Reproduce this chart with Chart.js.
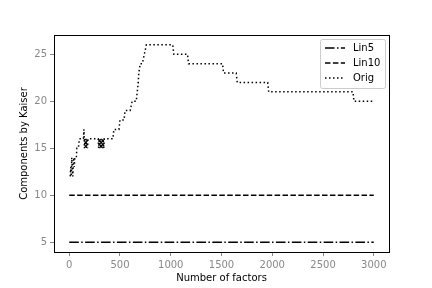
<!DOCTYPE html>
<html>
<head>
<meta charset="utf-8">
<script src="https://cdn.jsdelivr.net/npm/chart.js@4/dist/chart.umd.min.js"></script>
<style>
  html, body { margin: 0; padding: 0; background: #fff; }
  #wrap { width: 432px; height: 288px; }
</style>
</head>
<body>
<div id="wrap"><canvas id="kaiser-chart" width="432" height="288"></canvas></div>
<script>
// Orig series: number of factors vs components by Kaiser
const origFactors = [10, 15, 20, 25, 30, 35, 40, 45, 50, 55, 60, 70, 75, 85, 90, 100, 110, 140, 145, 150,
  155, 160, 165, 170, 175, 180, 185, 285, 290, 295, 300, 305, 310, 315, 320, 325, 330, 335, 340, 345,
  350, 430, 440, 490, 500, 540, 550, 600, 620, 660, 670, 680, 685, 700, 720, 740, 760, 1020, 1030,
  1165, 1175, 1510, 1520, 1645, 1655, 1955, 1965, 2795, 2805, 3000];
const origKaiser = [12, 13, 12, 14, 13, 12, 13, 14, 13, 14, 14, 14, 15, 15, 15, 16, 16, 16, 17, 15,
  16, 15, 16, 15, 16, 15, 16, 16, 15, 16, 15, 16, 15, 16, 15, 16, 15, 16, 15, 16,
  16, 16, 17, 17, 18, 18, 19, 19, 20, 20, 21, 22, 23, 24, 24, 25, 26, 26, 25,
  25, 24, 24, 23, 23, 22, 22, 21, 21, 20, 20];

const linFactors = [0, 3000];
const lin5Kaiser = [5, 5];
const lin10Kaiser = [10, 10];

const xTicks = [0, 500, 1000, 1500, 2000, 2500, 3000];
const yTicks = [5, 10, 15, 20, 25];

function toPoints(xs, ys) {
  return xs.map((x, i) => ({ x: x, y: ys[i] }));
}

// draws the black frame round the plot area
const frameBox = {
  id: 'frameBox',
  afterDatasetsDraw(chart) {
    const a = chart.chartArea;
    const c = chart.ctx;
    c.save();
    c.strokeStyle = '#000';
    c.lineWidth = 1;
    c.strokeRect(Math.round(a.left) + 0.5, Math.round(a.top) + 0.5,
      Math.round(a.right - a.left), Math.round(a.bottom - a.top));
    c.restore();
  }
};

// matplotlib style legend in the upper right corner
const innerLegend = {
  id: 'innerLegend',
  afterDraw(chart) {
    const a = chart.chartArea;
    const c = chart.ctx;
    const sets = chart.data.datasets;
    const w = 65, h = 49;
    const x0 = a.right - w - 4, y0 = a.top + 4;
    c.save();
    c.fillStyle = 'rgba(255,255,255,0.8)';
    c.strokeStyle = '#cccccc';
    c.lineWidth = 1;
    c.beginPath();
    c.roundRect(x0 + 0.5, y0 + 0.5, w, h, 2);
    c.fill();
    c.stroke();
    c.font = '10px "DejaVu Sans"';
    c.textBaseline = 'middle';
    sets.forEach((ds, i) => {
      const yy = y0 + 9 + i * 15;
      c.strokeStyle = ds.borderColor;
      c.lineWidth = ds.borderWidth;
      c.setLineDash(ds.borderDash);
      c.beginPath();
      c.moveTo(x0 + 5, yy);
      c.lineTo(x0 + 25, yy);
      c.stroke();
      c.setLineDash([]);
      c.fillStyle = '#000';
      c.fillText(ds.label, x0 + 33, yy);
    });
    c.restore();
  }
};

const config = {
  type: 'line',
  data: {
    datasets: [
      {
        label: 'Lin5',
        data: toPoints(linFactors, lin5Kaiser),
        borderColor: '#000',
        borderWidth: 1.5,
        borderDash: [9.6, 2.4, 1.5, 2.4],
        pointRadius: 0,
        tension: 0,
        fill: false
      },
      {
        label: 'Lin10',
        data: toPoints(linFactors, lin10Kaiser),
        borderColor: '#000',
        borderWidth: 1.5,
        borderDash: [5.5, 2.4],
        pointRadius: 0,
        tension: 0,
        fill: false
      },
      {
        label: 'Orig',
        data: toPoints(origFactors, origKaiser),
        borderColor: '#000',
        borderWidth: 1.5,
        borderDash: [1.5, 2.5],
        pointRadius: 0,
        tension: 0,
        fill: false
      }
    ]
  },
  options: {
    responsive: false,
    animation: false,
    layout: { padding: { top: 35, right: 43, left: 0, bottom: 0 } },
    plugins: {
      legend: { display: false },
      tooltip: { enabled: false }
    },
    scales: {
      x: {
        type: 'linear',
        min: -150,
        max: 3150,
        afterBuildTicks: (s) => { s.ticks = xTicks.map(v => ({ value: v })); },
        afterFit: (s) => { s.height = 36; },
        border: { display: false },
        grid: { drawOnChartArea: false, drawTicks: true, tickLength: 4, color: '#888' },
        ticks: { color: '#888', padding: 3, maxRotation: 0,
          callback: (v) => String(v),
          font: { family: 'DejaVu Sans', size: 10 } },
        title: { display: true, text: 'Number of factors', color: '#000',
          font: { family: 'DejaVu Sans', size: 10 }, padding: { top: 0, bottom: 4 } }
      },
      y: {
        type: 'linear',
        min: 3.95,
        max: 27.05,
        afterBuildTicks: (s) => { s.ticks = yTicks.map(v => ({ value: v })); },
        afterFit: (s) => { s.width = 54; },
        border: { display: false },
        grid: { drawOnChartArea: false, drawTicks: true, tickLength: 4, color: '#888' },
        ticks: { color: '#888', padding: 3,
          callback: (v) => String(v),
          font: { family: 'DejaVu Sans', size: 10 } },
        title: { display: true, text: 'Components by Kaiser', color: '#000',
          font: { family: 'DejaVu Sans', size: 10 }, padding: { top: 18, bottom: 0 } }
      }
    }
  },
  plugins: [frameBox, innerLegend]
};

const ctx = document.getElementById('kaiser-chart').getContext('2d');
const chart = new Chart(ctx, config);
</script>
</body>
</html>
